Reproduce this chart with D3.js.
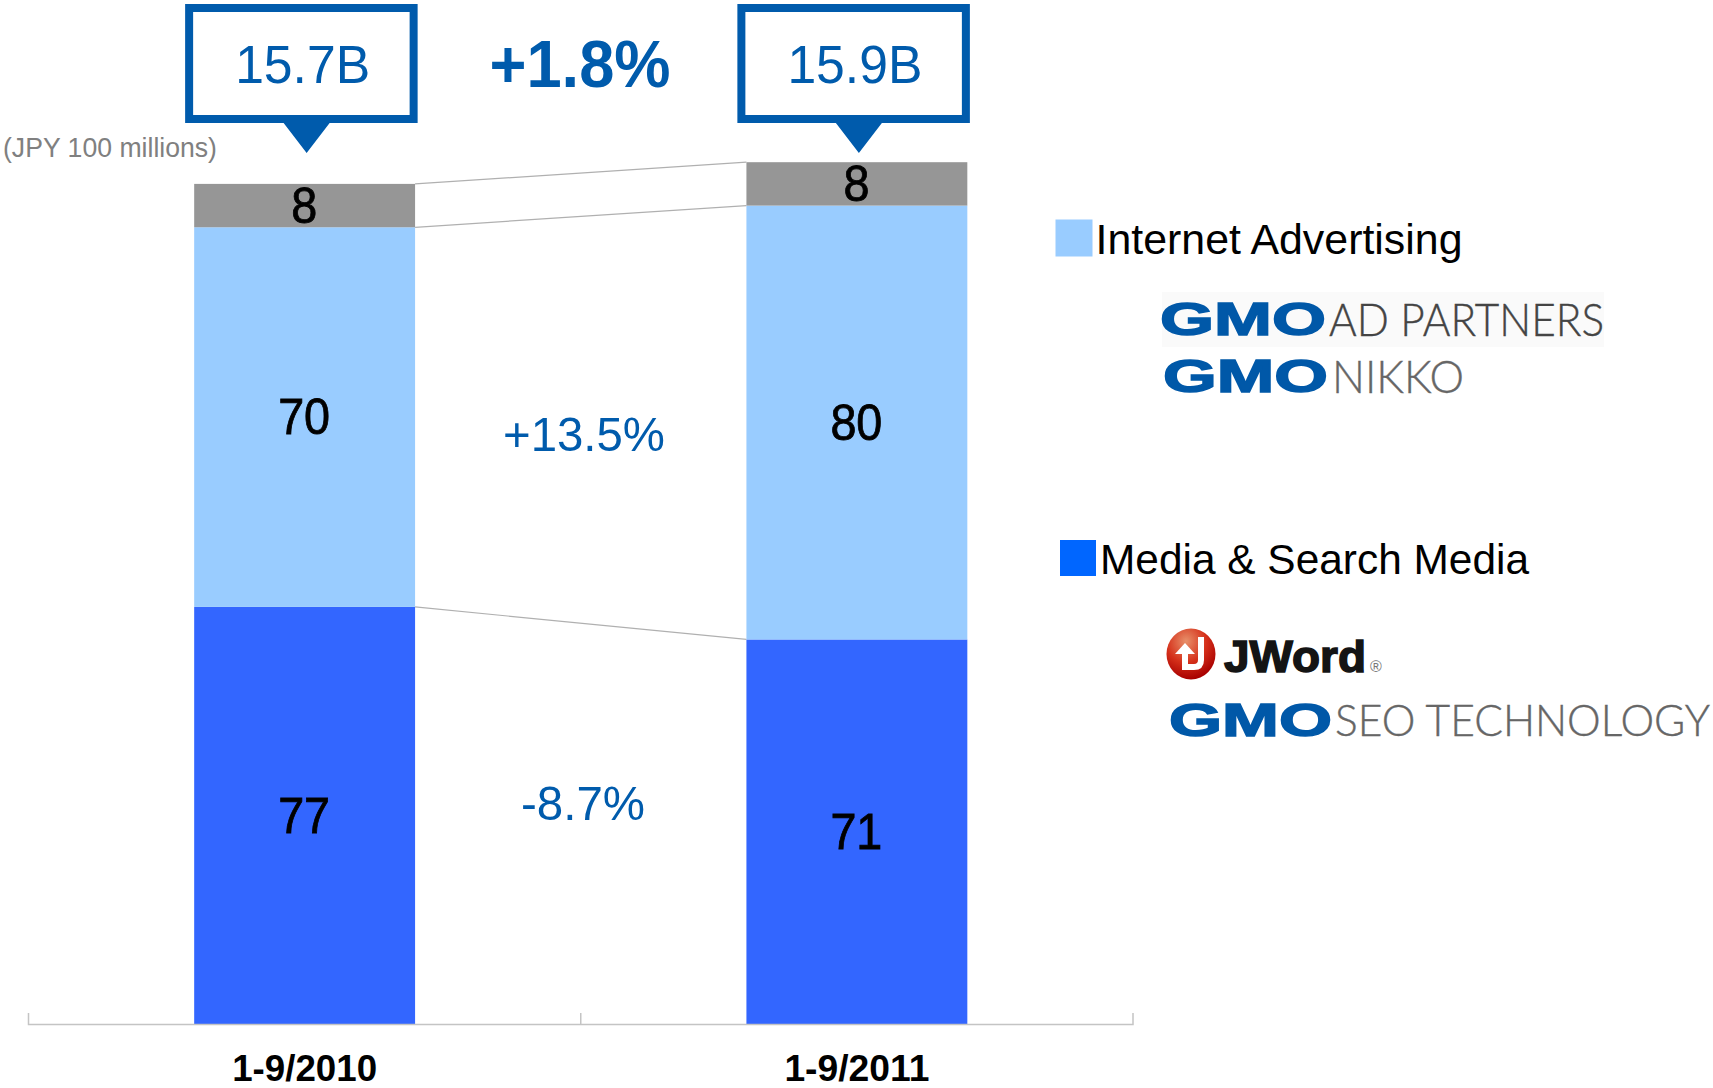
<!DOCTYPE html>
<html><head><meta charset="utf-8">
<script src="https://cdn.jsdelivr.net/npm/d3@7"></script>
<style>html,body{margin:0;padding:0;background:#fff}svg{display:block}text{font-family:"Liberation Sans",Arial,sans-serif}</style>
</head><body><svg id="c" width="1713" height="1088"></svg>
<script>
const categories = ["1-9/2010", "1-9/2011"];
const media = [77, 71];
const internet = [70, 80];
const other = [8, 8];
const totals = ["15.7B", "15.9B"];
const seriesNames = ["Media & Search Media", "Internet Advertising", "Other"];
const seriesColors = ["#3366FF", "#99CCFF", "#969696"];
const deltas = ["-8.7%", "+13.5%"];
const totalDelta = "+1.8%";
const unitLabel = "(JPY 100 millions)";

const BLUE = "#005BAC";
const svg = d3.select("#c");
const x = d3.scaleBand().domain(categories).range([28.5, 1133]).paddingInner(0.6).paddingOuter(0.3);
const y = d3.scaleLinear().domain([0, 159]).range([1024.5, 162.2]);
const rows = categories.map((c, i) => ({cat: c, Media: media[i], Internet: internet[i], Other: other[i]}));
const stacked = d3.stack().keys(["Media", "Internet", "Other"])(rows);
const color = d3.scaleOrdinal(["Media", "Internet", "Other"], seriesColors);

// connectors
stacked.forEach(s => {
  svg.append("line")
    .attr("x1", x(categories[0]) + x.bandwidth()).attr("y1", y(s[0][1]))
    .attr("x2", x(categories[1])).attr("y2", y(s[1][1]))
    .attr("stroke", "#b0b0b0").attr("stroke-width", 1.2);
});

// bars
const g = svg.selectAll("g.s").data(stacked).join("g").attr("class", "s").attr("fill", d => color(d.key));
g.selectAll("rect").data(d => d).join("rect")
  .attr("x", d => x(d.data.cat)).attr("width", x.bandwidth())
  .attr("y", d => y(d[1])).attr("height", d => y(d[0]) - y(d[1]));

// value labels
stacked.forEach(s => s.forEach(d => {
  const v = d[1] - d[0];
  svg.append("text").attr("x", x(d.data.cat) + x.bandwidth() / 2 - 0.5)
    .attr("y", (y(d[0]) + y(d[1])) / 2 + 17)
    .attr("text-anchor", "middle").attr("font-size", 50).attr("fill", "#000")
    .attr("stroke", "#000").attr("stroke-width", 0.8)
    .attr("textLength", String(v).length * 26).attr("lengthAdjust", "spacingAndGlyphs")
    .text(v);
}));

// axis
const axis = d3.axisBottom(x).tickSize(0).tickPadding(31);
const ax = svg.append("g").attr("transform", "translate(0,1024)").call(axis);
ax.select(".domain").remove();
ax.selectAll("text").attr("font-size", 37).attr("font-weight", "bold").attr("fill", "#000")
  .attr("font-family", '"Liberation Sans"').attr("textLength", 145).attr("lengthAdjust", "spacingAndGlyphs");
const [r0, r1] = x.range();
svg.append("path").attr("fill", "none").attr("stroke", "#c4c4c4").attr("stroke-width", 1.5)
  .attr("d", `M${r0},1013V1024.5H${r1}V1013M${(r0 + r1) / 2},1013V1024.5`);

// callouts
categories.forEach((c, i) => {
  const cx = x(c) + x.bandwidth() / 2;
  const cg = svg.append("g").attr("transform", `translate(${cx},0)`);
  cg.append("rect").attr("x", -115.5).attr("y", 8).attr("width", 224.5).attr("height", 111)
    .attr("fill", "#fff").attr("stroke", BLUE).attr("stroke-width", 8);
  cg.append("path").attr("fill", BLUE).attr("d", "M-27,115H31V123H25L2,153L-21,123H-27Z");
  cg.append("text").attr("x", -2).attr("y", 82.5).attr("text-anchor", "middle")
    .attr("font-size", 54).attr("fill", BLUE)
    .attr("textLength", 135).attr("lengthAdjust", "spacingAndGlyphs").text(totals[i]);
});
svg.append("text").attr("x", 580).attr("y", 87).attr("text-anchor", "middle")
  .attr("font-size", 66).attr("font-weight", "bold").attr("fill", BLUE)
  .attr("textLength", 181).attr("lengthAdjust", "spacingAndGlyphs").text(totalDelta);
svg.append("text").attr("x", 584).attr("y", 451).attr("text-anchor", "middle")
  .attr("font-size", 49).attr("fill", BLUE)
  .attr("textLength", 162).attr("lengthAdjust", "spacingAndGlyphs").text(deltas[1]);
svg.append("text").attr("x", 583).attr("y", 820).attr("text-anchor", "middle")
  .attr("font-size", 49).attr("fill", BLUE)
  .attr("textLength", 124).attr("lengthAdjust", "spacingAndGlyphs").text(deltas[0]);
svg.append("text").attr("x", 3).attr("y", 157).attr("font-size", 27).attr("fill", "#808080")
  .attr("textLength", 214).attr("lengthAdjust", "spacingAndGlyphs").text(unitLabel);

// legend
svg.append("rect").attr("x", 1055.5).attr("y", 219.5).attr("width", 37).attr("height", 37).attr("fill", "#99CCFF");
svg.append("text").attr("x", 1095.5).attr("y", 254).attr("font-size", 42).attr("fill", "#000")
  .attr("textLength", 367).attr("lengthAdjust", "spacingAndGlyphs").text(seriesNames[1]);
svg.append("rect").attr("x", 1060).attr("y", 540).attr("width", 36).attr("height", 36).attr("fill", "#0066FF");
svg.append("text").attr("x", 1100).attr("y", 574).attr("font-size", 42).attr("fill", "#000")
  .attr("textLength", 429).attr("lengthAdjust", "spacingAndGlyphs").text(seriesNames[0]);

// company marks
svg.append("rect").attr("x", 1162).attr("y", 292).attr("width", 442).attr("height", 55).attr("fill", "#fafafa");
function gmo(x0, x1, base, size) {
  svg.append("text").attr("x", x0).attr("y", base).attr("font-size", size).attr("font-weight", "bold")
    .attr("fill", "#0058A8").attr("stroke", "#0058A8").attr("stroke-width", 1.5)
    .attr("textLength", x1 - x0).attr("lengthAdjust", "spacingAndGlyphs").text("GMO");
}
function word(t, x0, x1, base, size, col) {
  svg.append("text").attr("x", x0).attr("y", base).attr("font-size", size)
    .style("font-family", '"Lato","Liberation Sans"').attr("font-weight", 300)
    .attr("fill", col).attr("stroke", col).attr("stroke-width", 0.4)
    .attr("textLength", x1 - x0).attr("lengthAdjust", "spacingAndGlyphs").text(t);
}
gmo(1160, 1326, 335, 47);  word("AD PARTNERS", 1329, 1604, 335.5, 46, "#444");
gmo(1163, 1328, 392, 47);  word("NIKKO", 1332, 1464, 392.5, 46, "#666");
gmo(1169, 1332, 736, 47);  word("SEO TECHNOLOGY", 1335, 1710, 736, 42.5, "#666");

const grad = svg.append("defs").append("radialGradient").attr("id", "jw").attr("cx", "40%").attr("cy", "25%").attr("r", "75%");
grad.append("stop").attr("offset", "0%").attr("stop-color", "#E8906A");
grad.append("stop").attr("offset", "55%").attr("stop-color", "#D5301A");
grad.append("stop").attr("offset", "100%").attr("stop-color", "#A80000");
svg.append("ellipse").attr("cx", 1191).attr("cy", 654).attr("rx", 24.5).attr("ry", 25.5).attr("fill", "url(#jw)");
svg.append("path").attr("fill", "none").attr("stroke", "#fff").attr("stroke-width", 6)
  .attr("d", "M1201,637V660Q1201,667 1194,667H1185V652");
svg.append("path").attr("fill", "#fff").attr("d", "M1175,654L1185,643L1195,654Z");
svg.append("text").attr("x", 1224).attr("y", 672).attr("font-size", 44).attr("font-weight", "bold")
  .attr("fill", "#141414").attr("stroke", "#141414").attr("stroke-width", 1.5)
  .attr("textLength", 142).attr("lengthAdjust", "spacingAndGlyphs").text("JWord");
svg.append("text").attr("x", 1376).attr("y", 672).attr("text-anchor", "middle").attr("font-size", 16).attr("fill", "#777").text("®");
</script></body></html>
